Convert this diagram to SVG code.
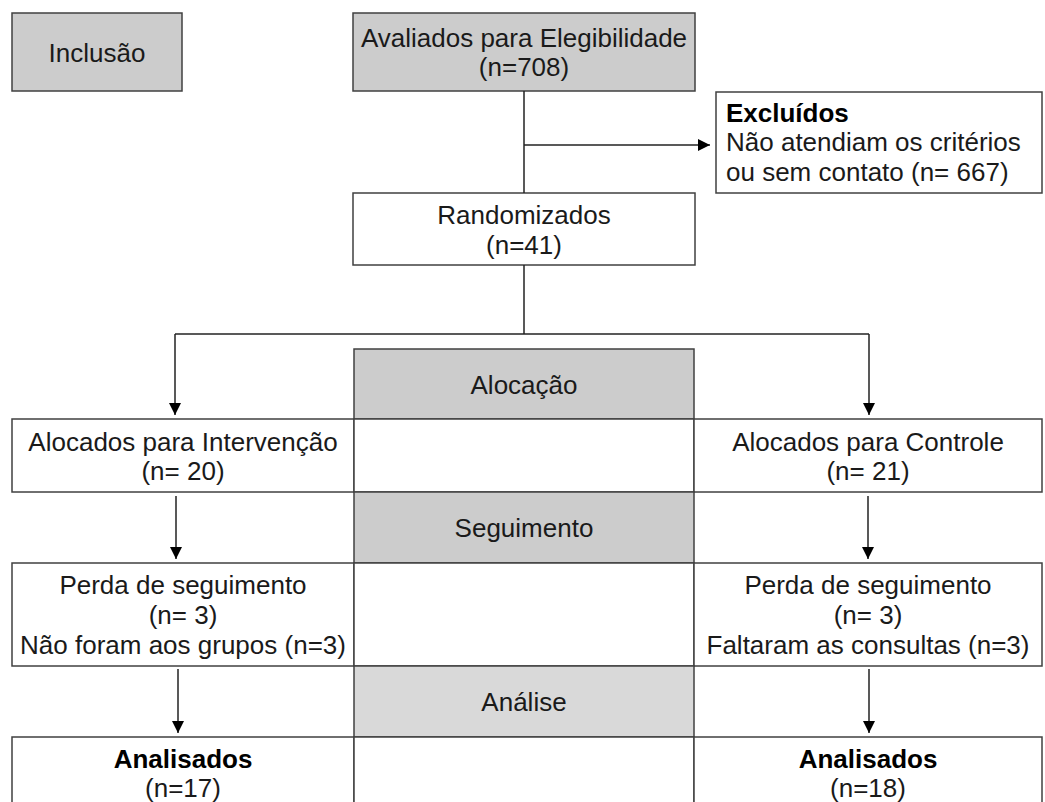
<svg xmlns="http://www.w3.org/2000/svg" width="1045" height="802" viewBox="0 0 1045 802">
<style>
  .box { fill: #ffffff; stroke: #404040; stroke-width: 1.5; }
  .gray { fill: #cccccc; stroke: #404040; stroke-width: 1.5; }
  .light { fill: #d9d9d9; stroke: #404040; stroke-width: 1.5; }
  text { font-family: "Liberation Sans", Arial, sans-serif; font-size: 26px; fill: #1a1a1a; }
  .c { text-anchor: middle; }
  .b { font-weight: bold; fill: #000000; }
  .conn { fill: none; stroke: #222222; stroke-width: 1.5; }
</style>
<defs>
  <marker id="ah" markerUnits="userSpaceOnUse" markerWidth="12" markerHeight="12" refX="12" refY="6" orient="auto">
    <path d="M0,0 L12,6 L0,12 z" fill="#000000"/>
  </marker>
</defs>
<rect width="1045" height="802" fill="#ffffff"/>

<g id="inclusao">
  <rect class="gray" x="12" y="13" width="170" height="78"/>
  <text class="c" x="97" y="62">Inclusão</text>
</g>
<g id="avaliados">
  <rect class="gray" x="353" y="13" width="342" height="78"/>
  <text class="c" x="524" y="47">Avaliados para Elegibilidade</text>
  <text class="c" x="524" y="76">(n=708)</text>
</g>
<g id="excluidos">
  <rect class="box" x="716" y="92" width="326" height="101"/>
  <text class="b" x="726" y="122">Excluídos</text>
  <text x="726" y="151">Não atendiam os critérios</text>
  <text x="726" y="181">ou sem contato (n= 667)</text>
</g>
<g id="randomizados">
  <rect class="box" x="353" y="193" width="342" height="72"/>
  <text class="c" x="524" y="224">Randomizados</text>
  <text class="c" x="524" y="254">(n=41)</text>
</g>
<g id="alocacao">
  <rect class="gray" x="354" y="349" width="340" height="70"/>
  <text class="c" x="524" y="394">Alocação</text>
</g>
<g id="alocados-intervencao">
  <rect class="box" x="12" y="419" width="342" height="73"/>
  <text class="c" x="183" y="451">Alocados para Intervenção</text>
  <text class="c" x="183" y="480">(n= 20)</text>
</g>
<g id="meio-alocados">
  <rect class="box" x="354" y="419" width="340" height="73"/>
</g>
<g id="alocados-controle">
  <rect class="box" x="694" y="419" width="348" height="73"/>
  <text class="c" x="868" y="451">Alocados para Controle</text>
  <text class="c" x="868" y="480">(n= 21)</text>
</g>
<g id="seguimento">
  <rect class="gray" x="354" y="492" width="340" height="71"/>
  <text class="c" x="524" y="537">Seguimento</text>
</g>
<g id="perda-intervencao">
  <rect class="box" x="12" y="563" width="342" height="103"/>
  <text class="c" x="183" y="594">Perda de seguimento</text>
  <text class="c" x="183" y="624">(n= 3)</text>
  <text class="c" x="183" y="654">Não foram aos grupos (n=3)</text>
</g>
<g id="meio-perda">
  <rect class="box" x="354" y="563" width="340" height="103"/>
</g>
<g id="perda-controle">
  <rect class="box" x="694" y="563" width="348" height="103"/>
  <text class="c" x="868" y="594">Perda de seguimento</text>
  <text class="c" x="868" y="624">(n= 3)</text>
  <text class="c" x="868" y="654">Faltaram as consultas (n=3)</text>
</g>
<g id="analise">
  <rect class="light" x="354" y="666" width="340" height="71"/>
  <text class="c" x="524" y="711">Análise</text>
</g>
<g id="analisados-intervencao">
  <rect class="box" x="12" y="737" width="342" height="80"/>
  <text class="c b" x="183" y="768">Analisados</text>
  <text class="c" x="183" y="797">(n=17)</text>
</g>
<g id="meio-analisados">
  <rect class="box" x="354" y="737" width="340" height="80"/>
</g>
<g id="analisados-controle">
  <rect class="box" x="694" y="737" width="348" height="80"/>
  <text class="c b" x="868" y="768">Analisados</text>
  <text class="c" x="868" y="797">(n=18)</text>
</g>

<g id="connectors">
  <path class="conn" d="M524,91 V193"/>
  <path class="conn" d="M524,145 H710" marker-end="url(#ah)"/>
  <path class="conn" d="M524,265 V334"/>
  <path class="conn" d="M175,334 H869"/>
  <path class="conn" d="M175,334 V415" marker-end="url(#ah)"/>
  <path class="conn" d="M869,334 V415" marker-end="url(#ah)"/>
  <path class="conn" d="M176,496 V559" marker-end="url(#ah)"/>
  <path class="conn" d="M868,496 V559" marker-end="url(#ah)"/>
  <path class="conn" d="M178,669 V733" marker-end="url(#ah)"/>
  <path class="conn" d="M869,669 V733" marker-end="url(#ah)"/>
</g>
</svg>
